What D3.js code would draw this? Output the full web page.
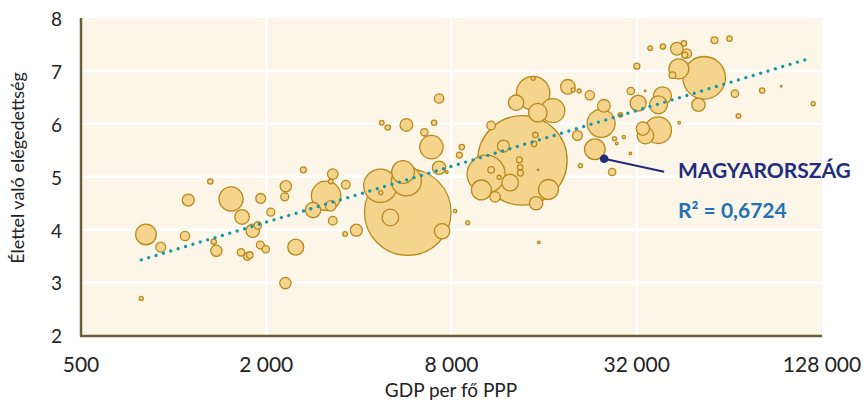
<!DOCTYPE html>
<html>
<head>
<meta charset="utf-8">
<script src="https://cdn.jsdelivr.net/npm/d3@7"></script>
<style>
  body { margin: 0; background: #fff; }
  svg text { font-family: Lato, "Open Sans", sans-serif; }
</style>
</head>
<body>
<svg id="chart" width="868" height="406"></svg>
<script>
// GDP per capita (PPP), life satisfaction, population (millions)
const gdp = [785, 813, 908, 1116, 1089, 1316, 1350, 1377, 1537, 1669, 1656, 1736, 1768, 1808, 1877,
  1914, 1993, 1919, 2069, 2315, 2297, 2494, 2308, 2640, 2839, 3130, 3241, 3290, 3241, 3290, 3627,
  3607, 3926, 5769, 4699, 5708, 5568, 4713, 5063, 7457, 8219, 9037, 6883, 7291, 7723, 7291, 5708,
  6531, 7023, 4748, 4966, 8488, 8642, 13600, 10366, 10004, 11087, 10760, 11424, 12405, 11800, 13300,
  13370, 13400, 14845, 14990, 15295, 16525, 15070, 10760, 14735, 12974, 15262, 17077, 14735, 15379,
  19105, 19878, 20790, 22525, 20530, 20998, 25020, 24521, 23386, 26617, 27080, 27570, 29055, 30525,
  28323, 30614, 32024, 35380, 34081, 32340, 34155, 33500, 37556, 38789, 37640, 43960, 43210, 45530,
  46560, 45870, 43860, 41800, 53000, 50780, 38910, 57250, 64050, 66700, 68500, 81800, 94300, 119850];
const life = [2.70, 3.91, 3.67, 4.56, 3.88, 4.91, 3.77, 3.60, 4.58, 4.24, 3.57, 3.49, 3.52, 3.98, 4.08,
  3.71, 3.63, 4.59, 4.33, 4.82, 4.62, 3.67, 2.99, 5.13, 4.37, 4.64, 4.45, 5.05, 4.91, 4.17, 4.85,
  3.92, 3.99, 4.33, 4.83, 4.92, 5.09, 4.70, 4.23, 3.97, 4.35, 4.13, 5.56, 5.17, 5.09, 6.48, 5.98,
  5.84, 6.02, 6.02, 5.93, 5.41, 5.56, 5.31, 5.05, 4.75, 4.62, 5.13, 4.99, 4.89, 5.58, 5.32,
  5.18, 5.07, 5.62, 5.79, 5.13, 4.76, 4.50, 5.97, 6.58, 6.40, 6.21, 6.25, 6.86, 3.76,
  6.70, 6.64, 6.62, 6.54, 5.78, 5.21, 6.34, 6.01, 5.52, 5.09, 5.72, 5.63, 5.75, 5.44,
  6.17, 6.62, 7.09, 7.43, 6.62, 6.39, 5.78, 5.91, 5.88, 6.53, 6.36, 6.02, 7.42, 7.52,
  7.33, 7.30, 7.04, 6.92, 6.87, 6.36, 7.46, 7.58, 7.61, 6.57, 6.15, 6.63, 6.71, 6.38];
const pop = [2.8, 74, 17, 25, 15, 5, 5, 22, 100, 37, 9.5, 9.5, 7.6, 31, 9.5,
  11, 9.5, 17, 11, 22, 11, 44, 22, 6.3, 41, 150, 19.5, 19.5, 3.7, 13, 13,
  3.7, 25, 1300, 194, 156, 89, 2.8, 48, 41, 2, 2.8, 95, 31, 1.2, 15, 28,
  9.5, 5, 3.7, 5, 6.3, 5, 1390, 250, 69, 19.5, 7.6, 2.8, 48, 25, 6.3,
  5, 6.3, 5, 5, 0.4, 69, 31, 13, 194, 41, 60, 100, 2.8, 1.2,
  37, 2.8, 2.8, 15, 17, 2.8, 28, 136, 74, 9.5, 2.8, 1.2, 2, 1.2,
  3.7, 9.5, 6.3, 3.7, 0.4, 44, 48, 31, 123, 56, 56, 1.2, 28, 5,
  15, 6.3, 69, 7.6, 315, 31, 5, 7.6, 5, 9.5, 3.7, 5, 0.4, 2.8];

const hungary = { gdp: 25070, life: 5.34 };
const trendGdp = [785, 114300];
const trendLife = [3.43, 7.22];

const xTicks = [500, 2000, 8000, 32000, 128000];
const yTicks = [2, 3, 4, 5, 6, 7, 8];
const labelHu = "MAGYARORSZÁG";
const labelR2 = "R² = 0,6724";

const plot = { left: 81, right: 822, top: 18, bottom: 335.5 };
const fmt = d => d3.format(",")(d).replace(/,/g, " ");

const svg = d3.select("#chart");
const x = d3.scaleLog().base(2).domain([500, 128000]).range([plot.left, plot.right]);
const y = d3.scaleLinear().domain([2, 8]).range([plot.bottom, plot.top]);
const r = d3.scaleSqrt().domain([0, 1400]).range([0, 44.9]);

svg.append("rect")
  .attr("x", plot.left).attr("y", plot.top)
  .attr("width", plot.right - plot.left).attr("height", plot.bottom - plot.top)
  .attr("fill", "#fcf6e9");

// gridlines
svg.append("g")
  .selectAll("line")
  .data(yTicks.slice(1, -1))
  .join("line")
  .attr("x1", plot.left).attr("x2", plot.right)
  .attr("y1", d => y(d)).attr("y2", d => y(d))
  .attr("stroke", "#fff").attr("stroke-width", 2.5);

svg.append("g")
  .selectAll("line")
  .data(xTicks.slice(1, -1))
  .join("line")
  .attr("x1", d => x(d)).attr("x2", d => x(d))
  .attr("y1", plot.top).attr("y2", plot.bottom)
  .attr("stroke", "#fff").attr("stroke-width", 2.5);

// bubbles, big ones first
const countries = d3.range(gdp.length).map(i => ({ gdp: gdp[i], life: life[i], pop: pop[i] }));
countries.sort((a, b) => b.pop - a.pop);

svg.append("g")
  .selectAll("circle")
  .data(countries)
  .join("circle")
  .attr("cx", d => x(d.gdp))
  .attr("cy", d => y(d.life))
  .attr("r", d => Math.max(r(d.pop), 0.8))
  .attr("fill", "#f5d48e")
  .attr("stroke", "#b8891c")
  .attr("stroke-width", 1.3);

// trend line
svg.append("line")
  .attr("x1", x(trendGdp[0])).attr("y1", y(trendLife[0]))
  .attr("x2", x(trendGdp[1])).attr("y2", y(trendLife[1]))
  .attr("stroke", "#1497a8")
  .attr("stroke-width", 3.4)
  .attr("stroke-linecap", "round")
  .attr("stroke-dasharray", "0 7.7");

// Hungary annotation
const hx = x(hungary.gdp), hy = y(hungary.life);
svg.append("line")
  .attr("x1", hx).attr("y1", hy)
  .attr("x2", hx + 60).attr("y2", hy + 13)
  .attr("stroke", "#1f2b7b").attr("stroke-width", 2);
svg.append("circle")
  .attr("cx", hx).attr("cy", hy).attr("r", 4.3)
  .attr("fill", "#1f2b7b");

svg.append("text")
  .attr("x", 678).attr("y", 178)
  .attr("font-size", 21).attr("font-weight", 700)
  .attr("fill", "#1f2d7d")
  .text(labelHu);
svg.append("text")
  .attr("x", 678).attr("y", 218)
  .attr("font-size", 21).attr("font-weight", 700)
  .attr("fill", "#1f72b5")
  .text(labelR2);

// axes
svg.append("line")
  .attr("x1", plot.left).attr("x2", plot.left)
  .attr("y1", plot.top).attr("y2", plot.bottom + 1)
  .attr("stroke", "#6b5d35").attr("stroke-width", 2.5);
svg.append("line")
  .attr("x1", plot.left - 1).attr("x2", plot.right)
  .attr("y1", plot.bottom + 0.5).attr("y2", plot.bottom + 0.5)
  .attr("stroke", "#6b5d35").attr("stroke-width", 2.5);

svg.append("g")
  .selectAll("text")
  .data(yTicks)
  .join("text")
  .attr("x", 62).attr("y", d => y(d) + 1)
  .attr("dy", "0.36em")
  .attr("text-anchor", "end")
  .attr("font-size", 19).attr("fill", "#222")
  .text(d => d);

svg.append("g")
  .selectAll("text")
  .data(xTicks)
  .join("text")
  .attr("x", d => x(d)).attr("y", 371.5)
  .attr("text-anchor", "middle")
  .attr("font-size", 21).attr("fill", "#222")
  .text(fmt);

svg.append("text")
  .attr("x", 451).attr("y", 397)
  .attr("text-anchor", "middle")
  .attr("font-size", 19).attr("fill", "#222")
  .text("GDP per fő PPP");

svg.append("text")
  .attr("transform", "translate(24,168) rotate(-90)")
  .attr("text-anchor", "middle")
  .attr("font-size", 18).attr("fill", "#222")
  .text("Élettel való elégedettség");
</script>
</body>
</html>
